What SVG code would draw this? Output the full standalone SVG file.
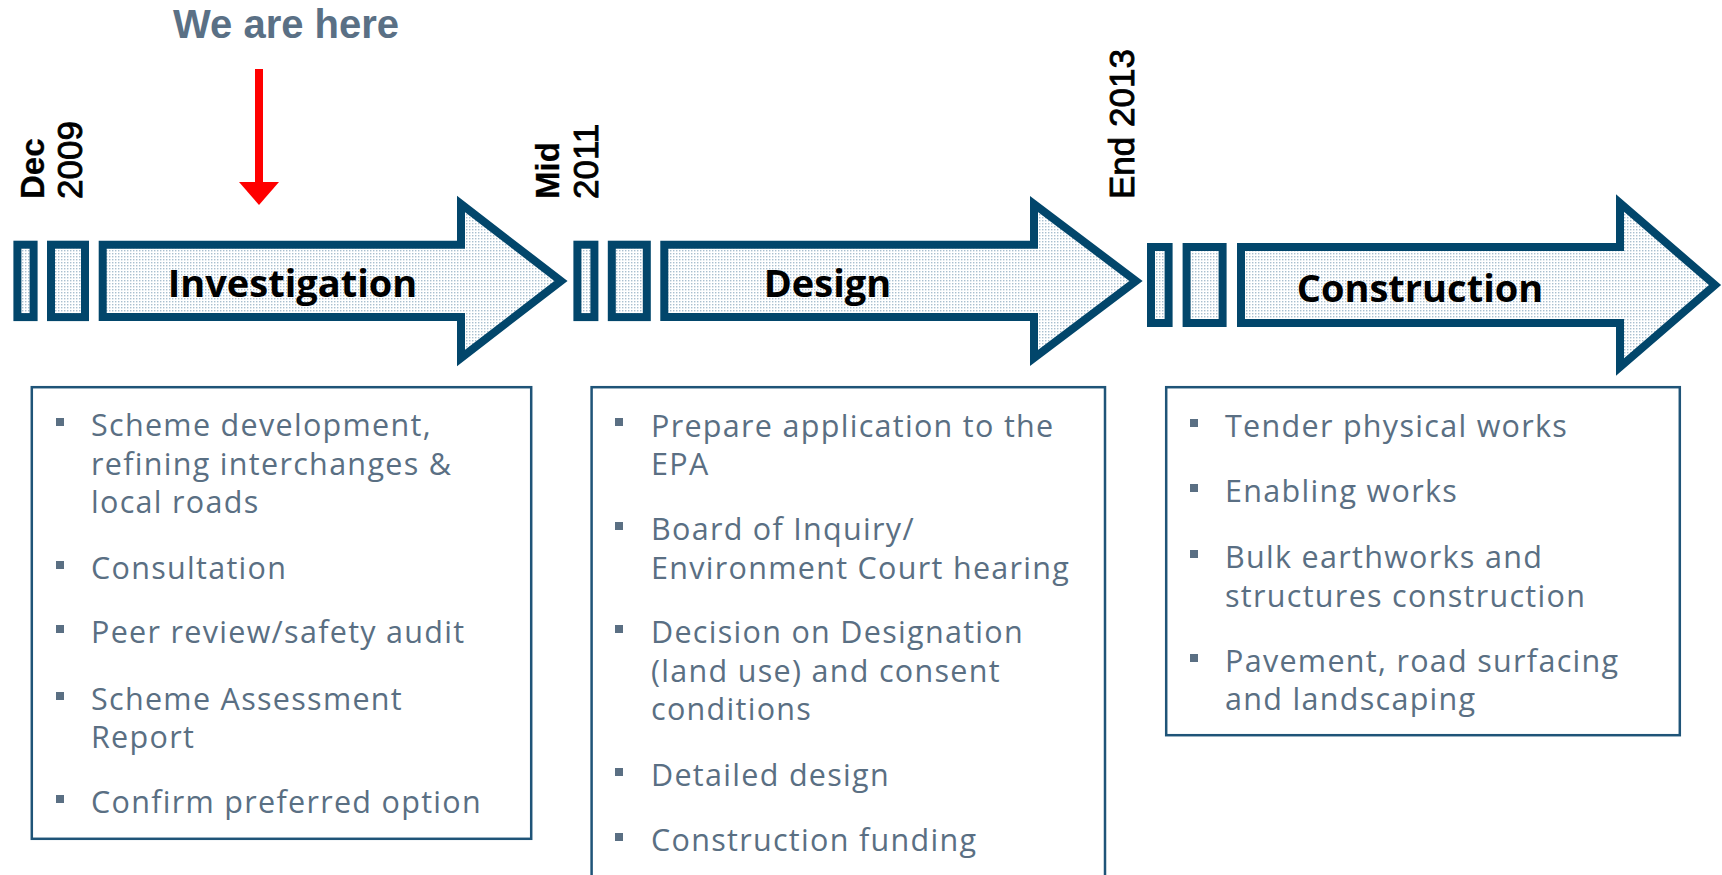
<svg xmlns="http://www.w3.org/2000/svg" width="1722" height="875" viewBox="0 0 1722 875">
<defs>
<pattern id="dots" width="3" height="3" patternUnits="userSpaceOnUse">
<rect width="3" height="3" fill="#ffffff"/>
<rect x="1" y="1" width="1.4" height="1.4" fill="#a9bfcf"/>
</pattern>
<style>
.shape{fill:url(#dots);stroke:#02466b;stroke-width:8;stroke-linejoin:miter;stroke-miterlimit:10}
.phase{font-family:"Open Sans","Noto Sans",sans-serif;font-weight:bold;font-size:38px;fill:#000;text-anchor:middle}
.date{font-family:"Liberation Sans",Arial,sans-serif;font-size:35px;fill:#000;stroke:#000;stroke-width:0.9px}
.b{font-weight:bold;font-size:33px;stroke-width:0.3px}
.box{fill:#fff;stroke:#1f5478;stroke-width:2.5}
.item{font-family:"Open Sans","Noto Sans",sans-serif;font-size:30.5px;letter-spacing:1.3px;fill:#5a6f83}
.bul{fill:#5a6f83}
.here{font-family:"Liberation Sans",Arial,sans-serif;font-weight:bold;font-size:40px;fill:#5a7085}
</style>
</defs>
<rect width="1722" height="875" fill="#fff"/>

<g id="marker-here">
<text class="here" x="173" y="38">We are here</text>
</g>

<g id="connectors">
<line x1="259" y1="69" x2="259" y2="184" stroke="#ff0000" stroke-width="8"/>
<polygon points="239,182 279,182 259,205" fill="#ff0000"/>
</g>

<g id="date-dec2009">
<text class="date b" transform="translate(44,199) rotate(-90)">Dec</text>
<text class="date" transform="translate(82,199) rotate(-90)">2009</text>
</g>
<g id="date-mid2011">
<text class="date b" transform="translate(559,199) rotate(-90)">Mid</text>
<text class="date" transform="translate(598,199) rotate(-90)">2011</text>
</g>
<g id="date-end2013">
<text class="date" transform="translate(1134,199) rotate(-90)">End 2013</text>
</g>

<g id="phase-investigation">
<rect class="shape" x="17.4" y="244.7" width="16.2" height="72.4"/>
<rect class="shape" x="51" y="244.7" width="34" height="72.4"/>
<polygon class="shape" points="102.7,244.7 461,244.7 461,204 561,281 461,358 461,317.1 102.7,317.1"/>
<text class="phase" x="292.5" y="297">Investigation</text>
</g>

<g id="phase-design">
<rect class="shape" x="577.4" y="244.7" width="17" height="72.4"/>
<rect class="shape" x="611.8" y="244.7" width="35" height="72.4"/>
<polygon class="shape" points="664.3,244.7 1034,244.7 1034,204 1136,281 1034,358 1034,317.1 664.3,317.1"/>
<text class="phase" x="827.5" y="297">Design</text>
</g>

<g id="phase-construction">
<rect class="shape" x="1151" y="247" width="17.6" height="76"/>
<rect class="shape" x="1186.6" y="247" width="36" height="76"/>
<polygon class="shape" points="1241,247 1620,247 1620,203 1715,285 1620,367 1620,323 1241,323"/>
<text class="phase" x="1420" y="302">Construction</text>
</g>

<g id="box-investigation">
<rect class="box" x="31.8" y="387.2" width="499.4" height="451.6"/>
<rect class="bul" x="56" y="418" width="8" height="8"/>
<rect class="bul" x="56" y="561" width="8" height="8"/>
<rect class="bul" x="56" y="625" width="8" height="8"/>
<rect class="bul" x="56" y="692" width="8" height="8"/>
<rect class="bul" x="56" y="795" width="8" height="8"/>
<text class="item" x="91" y="436">Scheme development,</text>
<text class="item" x="91" y="475">refining interchanges &amp;</text>
<text class="item" x="91" y="513">local roads</text>
<text class="item" x="91" y="579">Consultation</text>
<text class="item" x="91" y="643">Peer review/safety audit</text>
<text class="item" x="91" y="710">Scheme Assessment</text>
<text class="item" x="91" y="748">Report</text>
<text class="item" x="91" y="813">Confirm preferred option</text>
</g>

<g id="box-design">
<rect class="box" x="591.6" y="387.2" width="513.4" height="500"/>
<rect class="bul" x="615" y="418" width="8" height="8"/>
<rect class="bul" x="615" y="522" width="8" height="8"/>
<rect class="bul" x="615" y="625" width="8" height="8"/>
<rect class="bul" x="615" y="768" width="8" height="8"/>
<rect class="bul" x="615" y="833" width="8" height="8"/>
<text class="item" x="651" y="437">Prepare application to the</text>
<text class="item" x="651" y="475">EPA</text>
<text class="item" x="651" y="540">Board of Inquiry/</text>
<text class="item" x="651" y="579">Environment Court hearing</text>
<text class="item" x="651" y="643">Decision on Designation</text>
<text class="item" x="651" y="682">(land use) and consent</text>
<text class="item" x="651" y="720">conditions</text>
<text class="item" x="651" y="786">Detailed design</text>
<text class="item" x="651" y="851">Construction funding</text>
</g>

<g id="box-construction">
<rect class="box" x="1166.2" y="387.2" width="513.6" height="348"/>
<rect class="bul" x="1190" y="419" width="8" height="8"/>
<rect class="bul" x="1190" y="484" width="8" height="8"/>
<rect class="bul" x="1190" y="550" width="8" height="8"/>
<rect class="bul" x="1190" y="654" width="8" height="8"/>
<text class="item" x="1225" y="437">Tender physical works</text>
<text class="item" x="1225" y="502">Enabling works</text>
<text class="item" x="1225" y="568">Bulk earthworks and</text>
<text class="item" x="1225" y="607">structures construction</text>
<text class="item" x="1225" y="672">Pavement, road surfacing</text>
<text class="item" x="1225" y="710">and landscaping</text>
</g>
</svg>
